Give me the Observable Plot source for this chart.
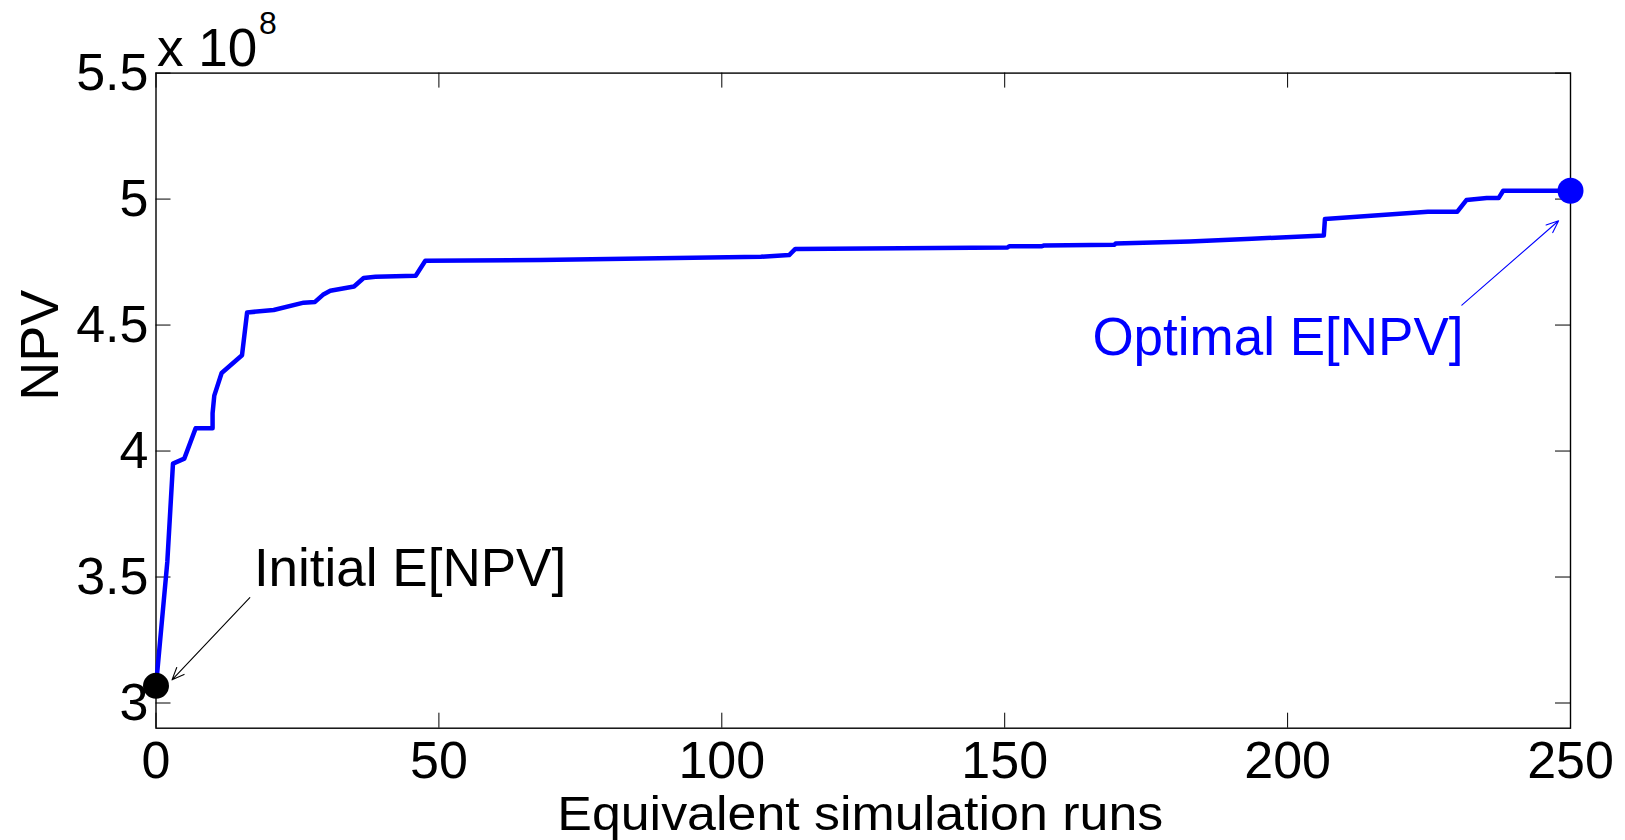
<!DOCTYPE html>
<html>
<head>
<meta charset="utf-8">
<script src="https://cdn.jsdelivr.net/npm/d3@7"></script>
<script src="https://cdn.jsdelivr.net/npm/@observablehq/plot@0.6"></script>
<style>
  html, body { margin: 0; padding: 0; background: #fff; }
  #chart svg { display: block; }
</style>
</head>
<body>
<div id="chart"></div>
<script>
// ---- data (NPV in units of 1e8) ----
const runs = [0, 2, 3, 5, 7, 10, 10, 10.3, 11.6, 15.2, 16.1, 20.8, 26.1, 28.1, 29.5,
  30.8, 35.0, 36.7, 38.8, 45.9, 47.6, 68, 106.9, 111.9, 113.0, 150.5, 150.8, 156.6,
  157, 169.4, 169.6, 182.7, 193.7, 206.4, 206.6, 224.8, 230.0, 231.6, 235.2, 237.3,
  238.1, 250];
const npv = [3.068, 3.56, 3.95, 3.97, 4.09, 4.09, 4.15, 4.22, 4.31, 4.38, 4.55, 4.56,
  4.589, 4.592, 4.62, 4.636, 4.653, 4.687, 4.692, 4.696, 4.755, 4.758, 4.771, 4.778,
  4.802, 4.808, 4.813, 4.813, 4.816, 4.819, 4.824, 4.832, 4.843, 4.855, 4.921, 4.95,
  4.95, 4.996, 5.004, 5.004, 5.033, 5.033];

const xTicks = [0, 50, 100, 150, 200, 250];
const xTickLabels = ["0", "50", "100", "150", "200", "250"];
const yTicks = [3, 3.5, 4, 4.5, 5, 5.5];
const yTickLabels = ["3", "3.5", "4", "4.5", "5", "5.5"];

const xLabel = "Equivalent simulation runs";
const yLabel = "NPV";
const exponentBase = "x 10";
const exponentPower = "8";

const initialPoint = [{x: 0, y: 3.068}];
const optimalPoint = [{x: 250, y: 5.033}];

const initialNote = [{label: "Initial E[NPV]", x: 17.3, y: 3.463}];
const optimalNote = [{label: "Optimal E[NPV]", x: 165.5, y: 4.380}];
const initialArrow = [{x1: 16.58, y1: 3.418, x2: 2.83, y2: 3.092}];
const optimalArrow = [{x1: 230.8, y1: 4.579, x2: 247.9, y2: 4.914}];

const series = runs.map((r, i) => ({run: r, npv: npv[i]}));

// ---- layout ----
const W = 1625, H = 840;
const mL = 155.5, mR = 55, mT = 72.6, mB = 112.3;
const fw = W - mL - mR, fh = H - mT - mB;
const tickLen = 15;
const blue = "#0000ff";

const chart = Plot.plot({
  width: W,
  height: H,
  marginLeft: mL,
  marginRight: mR,
  marginTop: mT,
  marginBottom: mB,
  style: {
    fontFamily: "'Liberation Sans', Arial, Helvetica, sans-serif",
    background: "white",
    color: "black",
    overflow: "visible"
  },
  x: {domain: [0, 250]},
  y: {domain: [2.9, 5.5]},
  marks: [
    Plot.frame({stroke: "black", strokeWidth: 1.4}),
    // inward ticks on all four sides
    Plot.tickX(xTicks, {x: d => d, insetTop: fh - tickLen, stroke: "black", strokeWidth: 1}),
    Plot.tickX(xTicks, {x: d => d, insetBottom: fh - tickLen, stroke: "black", strokeWidth: 1}),
    Plot.tickY(yTicks, {y: d => d, insetRight: fw - tickLen, stroke: "black", strokeWidth: 1}),
    Plot.tickY(yTicks, {y: d => d, insetLeft: fw - tickLen, stroke: "black", strokeWidth: 1}),
    Plot.axisX(xTicks, {
      anchor: "bottom", tickSize: 0, tickPadding: 13, fontSize: 52,
      tickFormat: d => xTickLabels[xTicks.indexOf(d)], label: null
    }),
    Plot.axisY(yTicks, {
      anchor: "left", tickSize: 0, tickPadding: 7.5, fontSize: 52,
      tickFormat: d => yTickLabels[yTicks.indexOf(d)], label: null
    }),
    // exponent label
    Plot.text([exponentBase], {
      frameAnchor: "top-left", text: d => d, textAnchor: "start", lineAnchor: "bottom",
      dx: 1, dy: -7, fontSize: 53, fill: "black"
    }),
    Plot.text([exponentPower], {
      frameAnchor: "top-left", text: d => d, textAnchor: "start", lineAnchor: "bottom",
      dx: 103, dy: -39.3, fontSize: 32, fill: "black"
    }),
    // axis titles
    Plot.text([yLabel], {
      frameAnchor: "left", text: d => d, rotate: -90, dx: -115.5,
      fontSize: 54, fill: "black"
    }),
    Plot.text([xLabel], {
      frameAnchor: "bottom", text: d => d, lineAnchor: "bottom", dx: -3, dy: 102,
      fontSize: 49, fill: "black", className: "xlabel"
    }),
    // series
    Plot.line(series, {x: "run", y: "npv", stroke: blue, strokeWidth: 4.5}),
    // annotations
    Plot.arrow(initialArrow, {
      x1: "x1", y1: "y1", x2: "x2", y2: "y2", stroke: "black",
      strokeWidth: 1.1, headLength: 18, headAngle: 45, bend: 0
    }),
    Plot.arrow(optimalArrow, {
      x1: "x1", y1: "y1", x2: "x2", y2: "y2", stroke: blue,
      strokeWidth: 1.1, headLength: 18, headAngle: 45, bend: 0
    }),
    Plot.dot(initialPoint, {x: "x", y: "y", r: 13, fill: "black", stroke: "none"}),
    Plot.dot(optimalPoint, {x: "x", y: "y", r: 13, fill: blue, stroke: "none"}),
    Plot.text(initialNote, {
      x: "x", y: "y", text: "label", textAnchor: "start", lineAnchor: "bottom",
      fontSize: 53, fill: "black"
    }),
    Plot.text(optimalNote, {
      x: "x", y: "y", text: "label", textAnchor: "start", lineAnchor: "bottom",
      fontSize: 53, fill: blue
    })
  ]
});

// widen the axis title slightly to the reference's measured span
d3.select(chart).selectAll("g.xlabel text")
  .attr("textLength", 606)
  .attr("lengthAdjust", "spacingAndGlyphs");

document.getElementById("chart").appendChild(chart);
</script>
</body>
</html>
